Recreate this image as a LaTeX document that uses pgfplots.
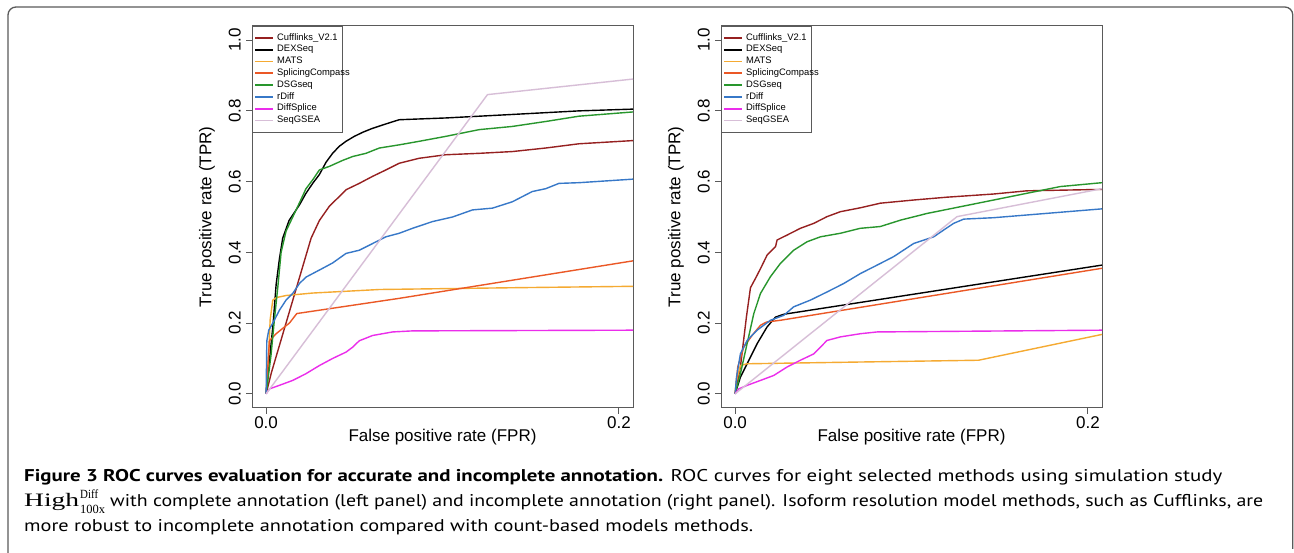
\documentclass[border=0pt]{standalone}
\usepackage{fontspec}
\usepackage{graphicx}
\usepackage{pgfplots}
\pgfplotsset{compat=1.18}
\setmainfont{Liberation Sans}
\newfontfamily\capfont{PT Sans}
\newfontfamily\serifcap{Liberation Serif}

\definecolor{cuff}{RGB}{150,32,32}
\definecolor{mats}{RGB}{245,170,50}
\definecolor{splc}{RGB}{235,88,38}
\definecolor{dsg}{RGB}{40,150,45}
\definecolor{rdiff}{RGB}{55,120,200}
\definecolor{dsp}{RGB}{235,45,235}
\definecolor{seqg}{RGB}{215,190,215}
\definecolor{axc}{RGB}{90,90,90}

\pgfplotsset{
  rocaxis/.style={
    anchor=south west,
    width=381pt, height=382pt, scale only axis,
    xmin=-0.008, xmax=0.208, ymin=-0.04, ymax=1.04,
    axis line style={axc, line width=1pt},
    every tick/.style={axc, line width=1pt},
    tick align=outside, major tick length=6pt,
    xtick={0,0.2}, xticklabels={0.0,0.2},
    ytick={0,0.2,0.4,0.6,0.8,1.0}, yticklabels={0.0,0.2,0.4,0.6,0.8,1.0},
    xtick pos=bottom, ytick pos=left,
    tick label style={font=\fontsize{17}{17}\selectfont},
    yticklabel style={rotate=90, anchor=south, inner sep=0pt, yshift=5pt},
    xticklabel style={anchor=north, inner sep=0pt, yshift=-2pt},
    xlabel={False positive rate (FPR)},
    ylabel={True positive rate (TPR)},
    label style={font=\fontsize{17}{17}\selectfont},
    xlabel style={at={(axis description cs:0.5,-0.076)}, anchor=center},
    ylabel style={at={(axis description cs:-0.118,0.5)}, anchor=center, rotate=0},
    legend style={at={(0,1)}, anchor=north west, draw=axc, line width=0.8pt,
      font=\fontsize{9.4}{9.4}\selectfont, inner xsep=2pt, inner ysep=7pt,
      row sep=2.8pt, column sep=0pt,
      nodes={inner ysep=0pt, inner xsep=3pt, text height=6.8pt, text depth=2.2pt, text width=60pt}},
    legend cell align=left,
    legend image code/.code={\draw[#1, line width=1.8pt] (5pt,0pt) -- (23pt,0pt);},
    every axis plot/.append style={line width=1.4pt, line join=round},
  }
}

\begin{document}
\begin{tikzpicture}[x=1pt,y=1pt]
\path[fill=white] (0,0) rectangle (1294,553);
\useasboundingbox (0,0) rectangle (1294,553);
\draw[axc, line width=1.3pt, rounded corners=8pt] (8,0) -- (8,546) -- (1292.8,546) -- (1292.8,4);

% ---------------- left panel ----------------
\begin{axis}[rocaxis, at={(252pt,145pt)}]
\addplot[cuff] coordinates {(0,0) (0.003,0.06) (0.0255,0.44) (0.0302,0.49) (0.0358,0.53) (0.0415,0.558) (0.0453,0.577) (0.0528,0.595) (0.0604,0.615) (0.0679,0.633) (0.0755,0.652) (0.0868,0.666) (0.1019,0.676) (0.1208,0.68) (0.1396,0.685) (0.1585,0.695) (0.1774,0.707) (0.208,0.716)};
\addplot[black] coordinates {(0,0) (0.002,0.1) (0.004,0.2) (0.0057,0.31) (0.0075,0.38) (0.0094,0.44) (0.013,0.49) (0.019,0.535) (0.0226,0.567) (0.0264,0.595) (0.0302,0.62) (0.034,0.655) (0.0377,0.68) (0.0415,0.70) (0.0453,0.714) (0.05,0.728) (0.055,0.74) (0.06,0.75) (0.066,0.76) (0.071,0.768) (0.0755,0.775) (0.1019,0.78) (0.14,0.79) (0.1774,0.80) (0.208,0.805)};
\addplot[mats] coordinates {(0,0) (0.0015,0.12) (0.0023,0.21) (0.0038,0.265) (0.0057,0.272) (0.0113,0.278) (0.0264,0.285) (0.0642,0.295) (0.1396,0.30) (0.208,0.304)};
\addplot[splc] coordinates {(0,0) (0.0019,0.15) (0.0057,0.17) (0.0094,0.185) (0.0132,0.2) (0.0174,0.227) (0.0755,0.27) (0.208,0.376)};
\addplot[dsg] coordinates {(0,0) (0.0028,0.11) (0.0047,0.21) (0.0066,0.30) (0.0085,0.40) (0.0113,0.46) (0.0151,0.50) (0.0189,0.54) (0.0226,0.58) (0.0264,0.605) (0.0302,0.633) (0.0358,0.643) (0.0434,0.66) (0.0491,0.671) (0.0566,0.68) (0.0642,0.695) (0.0755,0.704) (0.0868,0.714) (0.1019,0.728) (0.1208,0.747) (0.1396,0.756) (0.1585,0.77) (0.1774,0.785) (0.208,0.797)};
\addplot[rdiff] coordinates {(0,0) (0.0004,0.15) (0.0015,0.18) (0.0038,0.20) (0.0075,0.236) (0.0113,0.265) (0.0151,0.284) (0.0189,0.312) (0.0226,0.33) (0.0302,0.35) (0.0377,0.37) (0.0453,0.397) (0.0528,0.406) (0.0604,0.425) (0.0679,0.444) (0.0755,0.454) (0.083,0.468) (0.0943,0.487) (0.1057,0.50) (0.117,0.52) (0.1283,0.525) (0.1396,0.543) (0.1509,0.572) (0.1585,0.58) (0.166,0.595) (0.1774,0.597) (0.208,0.607)};
\addplot[dsp] coordinates {(0,0) (0.0019,0.014) (0.0075,0.024) (0.0151,0.038) (0.0226,0.057) (0.0302,0.08) (0.0377,0.10) (0.0453,0.118) (0.0491,0.132) (0.0528,0.15) (0.0604,0.165) (0.0717,0.175) (0.083,0.178) (0.208,0.18)};
\addplot[seqg] coordinates {(0,0) (0.1255,0.846) (0.208,0.89)};
\legend{Cufflinks\_V2.1,DEXSeq,MATS,SplicingCompass,DSGseq,rDiff,DiffSplice,SeqGSEA}
\end{axis}

% ---------------- right panel ----------------
\begin{axis}[rocaxis, at={(721pt,145pt)}]
\addplot[cuff] coordinates {(0,0) (0.003,0.076) (0.0064,0.217) (0.0087,0.30) (0.0115,0.326) (0.0144,0.354) (0.0181,0.392) (0.0229,0.416) (0.0238,0.435) (0.0295,0.449) (0.037,0.468) (0.0446,0.482) (0.0521,0.501) (0.0597,0.515) (0.071,0.526) (0.0823,0.539) (0.1012,0.548) (0.1201,0.556) (0.1466,0.565) (0.1654,0.574) (0.208,0.578)};
\addplot[black] coordinates {(0,0) (0.003,0.047) (0.0068,0.085) (0.0125,0.142) (0.0181,0.189) (0.0229,0.217) (0.0276,0.225) (0.208,0.364)};
\addplot[mats] coordinates {(0,0) (0.0008,0.038) (0.003,0.08) (0.0068,0.085) (0.071,0.09) (0.138,0.095) (0.208,0.168)};
\addplot[splc] coordinates {(0,0) (0.0015,0.076) (0.0049,0.132) (0.0096,0.165) (0.0144,0.194) (0.0178,0.203) (0.0257,0.208) (0.208,0.355)};
\addplot[dsg] coordinates {(0,0) (0.003,0.057) (0.0068,0.142) (0.0106,0.227) (0.0144,0.284) (0.02,0.331) (0.0257,0.369) (0.0332,0.406) (0.0408,0.43) (0.0484,0.444) (0.0597,0.454) (0.071,0.468) (0.0823,0.473) (0.0937,0.491) (0.1088,0.51) (0.1277,0.529) (0.1466,0.548) (0.1654,0.567) (0.1843,0.586) (0.208,0.597)};
\addplot[rdiff] coordinates {(0,0) (0.0008,0.047) (0.003,0.113) (0.0068,0.151) (0.0125,0.18) (0.02,0.208) (0.0276,0.222) (0.0332,0.246) (0.0427,0.265) (0.0521,0.288) (0.0616,0.312) (0.071,0.34) (0.0805,0.364) (0.0899,0.388) (0.1012,0.425) (0.1126,0.444) (0.1182,0.463) (0.1239,0.482) (0.1296,0.494) (0.1466,0.498) (0.208,0.523)};
\addplot[dsp] coordinates {(0,0) (0.0021,0.014) (0.0068,0.024) (0.0144,0.038) (0.0219,0.052) (0.0295,0.076) (0.037,0.095) (0.0446,0.113) (0.0521,0.151) (0.0597,0.161) (0.071,0.17) (0.0805,0.175) (0.208,0.18)};
\addplot[seqg] coordinates {(0,0) (0.1258,0.501) (0.208,0.58)};
\legend{Cufflinks\_V2.1,DEXSeq,MATS,SplicingCompass,DSGseq,rDiff,DiffSplice,SeqGSEA}
\end{axis}

% ---------------- caption ----------------
\node[anchor=base west, inner sep=0pt] at (24,71) {\resizebox{1198pt}{\height}{\capfont\fontsize{17}{17}\selectfont\textbf{Figure 3 ROC curves evaluation for accurate and incomplete annotation.} ROC curves for eight selected methods using simulation study}};
\node[anchor=base west, inner sep=0pt] at (24,46) {\resizebox{55pt}{\height}{\serifcap\fontsize{19}{19}\selectfont High}};
\node[anchor=base west, inner sep=0pt] at (80,54) {\resizebox{18pt}{\height}{\serifcap\fontsize{12.5}{12.5}\selectfont Diff}};
\node[anchor=base west, inner sep=0pt] at (80,39.5) {\resizebox{25pt}{\height}{\serifcap\fontsize{12.5}{12.5}\selectfont 100x}};
\node[anchor=base west, inner sep=0pt] at (110,46) {\resizebox{1153pt}{\height}{\capfont\fontsize{17}{17}\selectfont with complete annotation (left panel) and incomplete annotation (right panel). Isoform resolution model methods, such as Cufflinks, are}};
\node[anchor=base west, inner sep=0pt] at (24,21) {\resizebox{729pt}{\height}{\capfont\fontsize{17}{17}\selectfont more robust to incomplete annotation compared with count-based models methods.}};
\end{tikzpicture}
\end{document}
